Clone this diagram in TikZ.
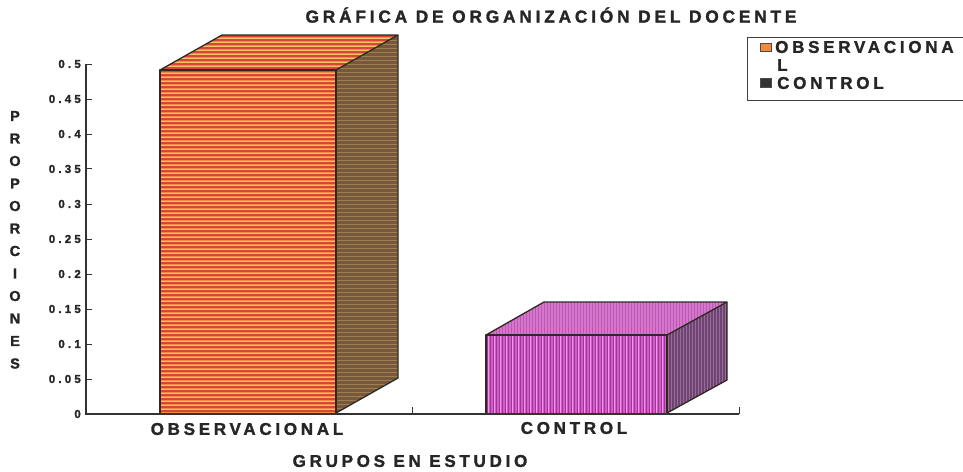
\documentclass[tikz,border=0pt]{standalone}
\usepackage{fontspec}
\newfontfamily\lab{Liberation Sans}[LetterSpace=22, BoldFeatures={FakeBold=1.6}]
\newfontfamily\labn{Liberation Sans}[BoldFeatures={FakeBold=1.6}]
\newcommand\kk{\kern3.2pt\relax}
\definecolor{edge}{HTML}{2E2A22}
\definecolor{orfront}{HTML}{F28A3C}
\definecolor{orstripe}{HTML}{D8453A}
\definecolor{oryel}{HTML}{F6C266}
\definecolor{orside}{HTML}{76583C}
\definecolor{orsidest}{HTML}{A07E52}
\definecolor{mgfront}{HTML}{D25CC8}
\definecolor{mgstripe}{HTML}{A03498}
\definecolor{mglight}{HTML}{EC9AE4}
\definecolor{mgside}{HTML}{6E4470}
\definecolor{mgsidest}{HTML}{9A6A9A}
\tikzset{
  txt/.style={font=\lab\bfseries\fontsize{17}{17}\selectfont, inner sep=0pt, text=black!85},
  ticklbl/.style={font=\labn\bfseries\fontsize{11.5}{12}\selectfont, inner sep=0pt, anchor=east, text=black!85},
  face/.style={draw=edge, line width=1.3pt, line join=round},
  axis/.style={draw=black!80, line width=1.2pt}
}
\begin{document}
\begin{tikzpicture}[x=1pt,y=-1pt]
\useasboundingbox[fill=white] (0,0) rectangle (963,471);
% ---------- observational bar ----------
\begin{scope}
 \clip (160,413) rectangle (336,70);
 \fill[orfront] (160,413) rectangle (336,70);
 \foreach \yy in {71,75,...,413} {\draw[orstripe, line width=1.3pt] (160,\yy) -- (336,\yy);}
 \foreach \yy in {73,77,...,413} {\draw[oryel, line width=0.7pt] (160,\yy) -- (336,\yy);}
\end{scope}
\begin{scope}
 \clip (160,70) -- (222,35) -- (398,35) -- (336,70) -- cycle;
 \fill[orfront] (160,70) -- (222,35) -- (398,35) -- (336,70) -- cycle;
 \foreach \yy in {36,40,...,72} {\draw[orstripe, line width=1.3pt] (150,\yy) -- (400,\yy);}
 \foreach \yy in {38,42,...,72} {\draw[oryel, line width=0.7pt] (150,\yy) -- (400,\yy);}
\end{scope}
\begin{scope}
 \clip (336,413) -- (398,378) -- (398,35) -- (336,70) -- cycle;
 \fill[orside] (336,413) -- (398,378) -- (398,35) -- (336,70) -- cycle;
 \foreach \yy in {36,40,...,413} {\draw[orsidest, line width=0.8pt] (330,\yy) -- (400,\yy);}
\end{scope}
\draw[face] (160,413) -- (160,70) -- (336,70) -- (336,413);
\draw[face] (160,70) -- (222,35) -- (398,35) -- (336,70);
\draw[face] (336,413) -- (398,378) -- (398,35);
% ---------- control bar ----------
\begin{scope}
 \clip (486,413) rectangle (667,335);
 \fill[mgfront] (486,413) rectangle (667,335);
 \foreach \xx in {487,490,...,667} {\draw[mgstripe, line width=0.9pt] (\xx,335) -- (\xx,413);}
 \foreach \xx in {488.5,494.5,...,667} {\draw[mglight, line width=0.5pt] (\xx,335) -- (\xx,413);}
\end{scope}
\begin{scope}
 \clip (486,335) -- (544,302) -- (727,302) -- (667,335) -- cycle;
 \fill[mgfront!85!white] (486,335) -- (544,302) -- (727,302) -- (667,335) -- cycle;
 \foreach \xx in {487,490,...,727} {\draw[mgstripe!80, line width=0.8pt] (\xx,300) -- (\xx,336);}
\end{scope}
\begin{scope}
 \clip (667,413) -- (727,380) -- (727,302) -- (667,335) -- cycle;
 \fill[mgside] (667,413) -- (727,380) -- (727,302) -- (667,335) -- cycle;
 \foreach \xx in {668,671,...,727} {\draw[mgsidest, line width=0.7pt] (\xx,300) -- (\xx,414);}
\end{scope}
\draw[face] (486,413) -- (486,335) -- (667,335) -- (667,413);
\draw[face] (486,335) -- (544,302) -- (727,302) -- (667,335);
\draw[face] (667,413) -- (727,380) -- (727,302);
% ---------- axes ----------
\coordinate (o) at (86,414);
\coordinate (ytop) at (86,64);
\coordinate (xend) at (739,414);
\draw[axis] (ytop) -- (o) -- (xend);
\foreach \v/\lbl [count=\i] in {0/0,0.05/0\kk.\kk0\kk5,0.1/0\kk.\kk1,0.15/0\kk.\kk1\kk5,0.2/0\kk.\kk2,0.25/0\kk.\kk2\kk5,0.3/0\kk.\kk3,0.35/0\kk.\kk3\kk5,0.4/0\kk.\kk4,0.45/0\kk.\kk4\kk5,0.5/0\kk.\kk5} {
  \pgfmathsetmacro{\yy}{414-700*\v}
  \draw[axis, line width=1pt] (86,\yy) -- (92,\yy);
  \node[ticklbl] (t\i) at (81,\yy) {\lbl};
}
\coordinate (xt1) at (412,414);
\coordinate (xt2) at (739,414);
\draw[axis, line width=1pt] (xt1) -- ++(0,-7);
\draw[axis, line width=1pt] (xt2) -- ++(0,-7);
% ---------- texts ----------
\node[txt, font=\lab\bfseries\fontsize{17.3}{17}\selectfont] (title) at (551,15) {GRÁFICA DE ORGANIZACIÓN DEL DOCENTE};
\node[txt] (xl1) at (247,429) {OBSERVACIONAL};
\node[txt] (xl2) at (574,428) {CONTROL};
\node[txt] (xtitle) at (410,461) {GRUPOS EN ESTUDIO};
\foreach \ch [count=\i] in {P,R,O,P,O,R,C,I,O,N,E,S} {
  \node[txt, font=\lab\bfseries\fontsize{14.5}{14}\selectfont] (yl\i) at (15,{116+(\i-1)*22.5}) {\ch};
}
% ---------- legend ----------
\draw[draw=black!75, line width=1pt] (747,37) rectangle (975,100);
\node[draw=black!70, fill=orfront, minimum width=11pt, minimum height=8pt, inner sep=0pt, line width=0.8pt] (sw1) at (766,47) {};
\node[draw=black!70, fill=black!80, minimum width=11pt, minimum height=9pt, inner sep=0pt, line width=0.8pt] (sw2) at (766,83) {};
\node[txt, anchor=west] (lg1) at (775,47) {OBSERVACIONA};
\node[txt, anchor=west] (lg1b) at (777,65) {L};
\node[txt, anchor=west] (lg2) at (777,83) {CONTROL};
\end{tikzpicture}
\end{document}
